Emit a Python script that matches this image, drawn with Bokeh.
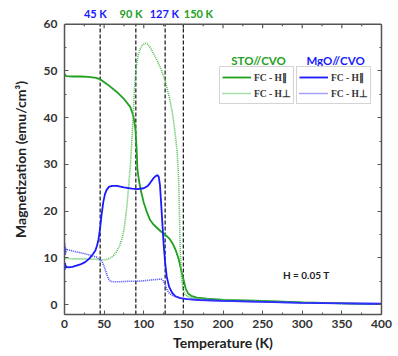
from bokeh.plotting import figure
from bokeh.models import (Range1d, LinearAxis, Span, Label, Legend, LegendItem,
                          CustomJSTickFormatter, SingleIntervalTicker, ColumnDataSource)
from bokeh.core.properties import value
from bokeh.embed import file_html
from bokeh.resources import INLINE

# ---- data ----
T_sto_par = [0, 2, 10, 20, 30, 40, 45, 55, 66, 75, 83, 87, 89.5, 91, 92, 94, 96, 100, 104, 108,
             112, 117, 122, 127, 132, 136, 140, 144, 147, 150, 153, 156, 160, 167, 180, 200, 250,
             300, 350, 400]
M_sto_par = [49.3, 48.9, 48.8, 48.8, 48.7, 48.5, 48.2, 47.0, 45.5, 44.0, 42.3, 40.3, 37.5, 33.5,
             29.0, 26.5, 24.7, 21.8, 19.8, 18.1, 17.2, 16.4, 15.6, 15.0, 14.2, 13.2, 11.8, 9.8,
             7.5, 5.5, 3.4, 2.4, 1.9, 1.5, 1.3, 1.0, 0.8, 0.5, 0.3, 0.1]

T_sto_perp = [0, 10, 20, 30, 40, 45, 50, 55, 58, 62, 66, 70, 73, 75, 77, 79, 81, 83, 85, 87, 89,
              91, 93, 95, 98, 102, 105, 108, 112, 117, 122, 127, 132, 136, 139, 142, 144, 145,
              146, 147.5, 149.5, 152, 155, 160, 170, 200, 250, 300, 350, 400]
M_sto_perp = [9.9, 9.8, 9.8, 9.8, 9.7, 9.6, 9.6, 9.7, 10.0, 10.5, 11.4, 12.8, 14.3, 16.0, 18.5,
              21.5, 25.5, 29.5, 35.0, 42.0, 48.0, 51.5, 53.3, 54.5, 55.5, 55.9, 55.7, 55.0, 53.8,
              52.2, 50.3, 47.9, 44.5, 41.2, 37.5, 33.0, 27.0, 20.0, 12.0, 6.0, 3.3, 2.2, 1.8,
              1.5, 1.3, 1.1, 0.8, 0.5, 0.3, 0.1]

T_mgo_par = [0, 0.4, 0.8, 1.2, 1.6, 2, 5, 10, 20, 26, 31, 35, 39, 41, 43, 45, 47, 49, 51, 53, 56,
             60, 66, 75, 85, 92, 100, 105, 108, 112, 115, 117.5, 119, 120.5, 122, 124, 125, 127,
             129, 132, 136, 140, 146, 155, 170, 200, 250, 300, 350, 400]
M_mgo_par = [8.6, 7.5, 8.9, 7.8, 8.4, 8.1, 8.0, 8.1, 8.6, 9.1, 9.8, 10.6, 11.6, 12.6, 14.0, 16.5,
             19.5, 22.0, 23.6, 24.5, 25.2, 25.4, 25.4, 25.1, 24.8, 24.7, 24.9, 25.4, 26.0, 27.0,
             27.5, 27.7, 27.3, 25.5, 21.5, 16.0, 13.2, 9.0, 6.0, 3.8, 2.5, 1.8, 1.4, 1.2, 1.0,
             0.8, 0.6, 0.4, 0.3, 0.2]

T_mgo_perp = [0, 0.4, 0.8, 1.2, 1.6, 2, 5, 10, 20, 30, 40, 45, 48, 50, 52, 54, 56, 58, 62, 70,
              80, 90, 100, 110, 118, 122, 124, 125, 127, 129, 132, 136, 140, 146, 155, 170, 200,
              250, 300, 350, 400]
M_mgo_perp = [12.0, 13.2, 10.6, 12.4, 11.0, 11.9, 11.7, 11.5, 11.1, 10.7, 10.2, 9.6, 9.0, 8.2,
              7.2, 6.2, 5.4, 5.0, 4.9, 4.9, 5.0, 5.0, 5.1, 5.3, 5.4, 5.5, 5.3, 5.0, 4.2, 3.3,
              2.5, 2.0, 1.7, 1.4, 1.2, 1.0, 0.8, 0.6, 0.4, 0.3, 0.2]

transition_T = [45, 90, 127, 150]
transition_labels = ["45 K", "90 K", "127 K", "150 K"]
transition_label_x = [39, 84, 126, 169]
transition_colors = ["#1a1aff", "#22a022", "#1a1aff", "#22a022"]

X_MIN, X_MAX = 0, 400
Y_MIN, Y_MAX = -2.1, 60          # plotted box
Y_TOP = 64.2                     # headroom above the box for transition labels

# ---- styles ----
GREEN = "#22a022"
GREEN_L = "#50bd50"
BLUE = "#1a1aff"
BLUE_L = "#4646ff"
FONT = "Lato"
AX = "#555555"
TXT = "#333333"

p = figure(width=398, height=356, output_backend="svg", toolbar_location=None,
           x_range=Range1d(X_MIN, X_MAX), y_range=Range1d(Y_MIN, Y_TOP),
           min_border_left=64, min_border_right=17, min_border_top=4, min_border_bottom=42)
p.background_fill_color = "white"
p.border_fill_color = "white"
p.outline_line_color = None
p.xgrid.visible = False
p.ygrid.visible = False

for ax in (p.xaxis[0], p.yaxis[0]):
    ax.axis_line_color = AX
    ax.axis_line_width = 1.5
    ax.major_tick_line_color = AX
    ax.minor_tick_line_color = AX
    ax.major_tick_in = 4
    ax.major_tick_out = 0
    ax.minor_tick_in = 2
    ax.minor_tick_out = 0
    ax.major_label_text_font = FONT
    ax.major_label_text_font_style = "bold"
    ax.major_label_text_font_size = "12px"
    ax.major_label_text_color = TXT
    ax.axis_label_text_font = FONT
    ax.axis_label_text_font_style = "bold"
    ax.axis_label_text_font_size = "14px"
    ax.axis_label_text_color = "#222222"

p.xaxis[0].ticker = SingleIntervalTicker(interval=50, num_minor_ticks=2)
p.yaxis[0].ticker = SingleIntervalTicker(interval=10, num_minor_ticks=2)
p.yaxis[0].bounds = (Y_MIN, Y_MAX)
p.xaxis[0].axis_label = "Temperature (K)"
p.yaxis[0].axis_label = "Magnetization (emu/cm³)"
p.xaxis[0].major_label_standoff = 5
p.xaxis[0].axis_label_standoff = 3
p.yaxis[0].major_label_standoff = 7
p.yaxis[0].axis_label_standoff = 12

# right axis: ticks only, limited to the box
blank = CustomJSTickFormatter(code="return ''")
right = LinearAxis(ticker=SingleIntervalTicker(interval=10, num_minor_ticks=2),
                   formatter=blank, bounds=(Y_MIN, Y_MAX))
right.axis_line_color = AX
right.axis_line_width = 1.5
right.major_tick_line_color = AX
right.minor_tick_line_color = AX
right.major_tick_in = 4
right.major_tick_out = 0
right.minor_tick_in = 2
right.minor_tick_out = 0
right.major_label_text_font_size = "0px"
right.major_label_standoff = 0
p.add_layout(right, "right")

# top edge of the box with inward ticks
px_per_unit = 310 / (Y_TOP - Y_MIN)
p.add_layout(Span(location=Y_MAX, dimension="width", line_color=AX, line_width=1.5))
top_major = list(range(X_MIN, X_MAX + 1, 50))
top_minor = list(range(X_MIN + 25, X_MAX, 50))
p.segment(x0=top_major, x1=top_major, y0=[Y_MAX] * len(top_major),
          y1=[Y_MAX - 4 / px_per_unit] * len(top_major), line_color=AX, line_width=1.2)
p.segment(x0=top_minor, x1=top_minor, y0=[Y_MAX] * len(top_minor),
          y1=[Y_MAX - 2 / px_per_unit] * len(top_minor), line_color=AX, line_width=1.2)

# transition lines
p.segment(x0=transition_T, x1=transition_T, y0=[Y_MIN] * len(transition_T),
          y1=[Y_MAX] * len(transition_T), line_color="#222222", line_dash="4 2", line_width=1.3)

# transition labels above the box
src_top = ColumnDataSource(dict(x=transition_label_x, y=[62.35] * len(transition_label_x),
                                text=transition_labels, color=transition_colors))
p.text(x="x", y="y", text="text", text_color="color", source=src_top,
       text_font=value(FONT), text_font_style="bold", text_font_size="11px",
       text_align="center", text_baseline="middle")

# curves
r_sp = p.line(T_sto_par, M_sto_par, line_color=GREEN, line_width=1.8)
r_so = p.line(T_sto_perp, M_sto_perp, line_color=GREEN_L, line_width=1.6, line_dash="1 1")
r_mp = p.line(T_mgo_par, M_mgo_par, line_color=BLUE, line_width=1.8)
r_mo = p.line(T_mgo_perp, M_mgo_perp, line_color=BLUE_L, line_width=1.6, line_dash="1 1")

# legends
def make_legend(items, loc):
    return Legend(items=items, location=loc, margin=0, padding=2, spacing=0,
                  glyph_width=29, glyph_height=16, label_height=16, label_standoff=3,
                  label_text_font="Liberation Serif", label_text_font_size="9.5px",
                  label_text_font_style="bold", label_text_color=TXT,
                  border_line_color="#aaaaaa", border_line_width=1,
                  background_fill_color="white", background_fill_alpha=1)

lg1 = make_legend([LegendItem(label="FC - H∥", renderers=[r_sp]),
                   LegendItem(label="FC - H⊥", renderers=[r_so])], (155, 210))
lg2 = make_legend([LegendItem(label="FC - H∥", renderers=[r_mp]),
                   LegendItem(label="FC - H⊥", renderers=[r_mo])], (232, 210))
p.add_layout(lg1, "center")
p.add_layout(lg2, "center")

p.add_layout(Label(x=244.8, y=52.3, text="STO//CVO", text_color=GREEN, text_font=FONT,
                   text_font_style="bold", text_font_size="11.5px", text_align="center",
                   text_baseline="middle"))
p.add_layout(Label(x=342, y=52.3, text="MgO//CVO", text_color=BLUE, text_font=FONT,
                   text_font_style="bold", text_font_size="11.5px", text_align="center",
                   text_baseline="middle"))
p.add_layout(Label(x=305, y=6.3, text="H = 0.05 T", text_color="#222222", text_font=FONT,
                   text_font_style="bold", text_font_size="10px", text_align="center",
                   text_baseline="middle"))

open("out.html", "w").write(file_html(p, INLINE))
